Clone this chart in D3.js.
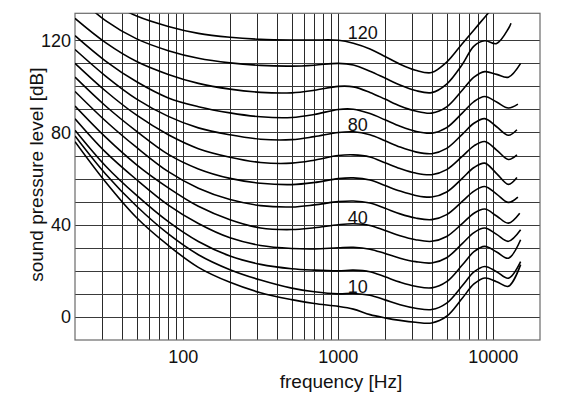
<!DOCTYPE html>
<html>
<head>
<meta charset="utf-8">
<script src="https://cdn.jsdelivr.net/npm/d3@7"></script>
<style>
  body { margin: 0; background: #fff; }
  text { font-family: "Liberation Sans", Arial, sans-serif; fill: #111; }
</style>
</head>
<body>
<div id="chart"></div>
<script>
// frequency grid (Hz) shared by all contours; the last point of each contour is its own end frequency
const freqs = [20, 31.5, 50, 80, 125, 200, 315, 500, 700, 1000, 1250, 1600, 2000, 2500, 3150, 4000, 5000, 6300, 7500, 8800, 10500, 12500];

// sound pressure level (dB), one array per contour
const splThreshold = [76, 58.5, 43, 31, 21.5, 15, 10.5, 7.5, 5.8, 4.6, 3.4, 1.0, -0.4, -1.5, -2.3, -2.6, 0.3, 8.1, 14.3, 16.9, 15.3, 13.3, 22.7];
const spl10 = [78.5, 62, 48, 36, 27, 20.5, 16, 12.5, 10.9, 10, 10.2, 9.4, 7.4, 5.3, 3.8, 3.2, 6.0, 13.5, 19.5, 21.9, 19.6, 16.8, 24];
const spl20 = [81, 65.5, 52.7, 41.3, 32.7, 26.4, 22.8, 20.9, 20.3, 20, 20.3, 19.6, 17.4, 15.1, 13.3, 12.6, 15.3, 22.5, 28.3, 30.6, 28.2, 25.5, 33.5];
const spl30 = [86, 71.5, 59.5, 48.5, 40.5, 34.3, 31.0, 29.7, 29.5, 30, 30.2, 29.4, 27.5, 25.5, 24, 23.4, 25.7, 31.8, 36.6, 38.6, 35.8, 32.8, 37.8];
const spl40 = [91.5, 78, 66, 56, 48, 42.2, 38.6, 37.9, 38.7, 40, 40.4, 39.7, 37.5, 35.2, 33.5, 32.8, 34.9, 40.5, 45, 46.8, 43.8, 40.7, 45];
const spl50 = [97.8, 85, 73.5, 63, 55.8, 50.9, 48.3, 47.7, 48.6, 50, 50.3, 49.4, 47.1, 44.7, 42.9, 42.2, 44.4, 50.1, 54.6, 56.6, 53.3, 49.7, 52];
const spl60 = [104, 91.5, 80.5, 70.5, 64.2, 60.1, 58.0, 57.4, 58.3, 60, 60.3, 59.4, 57, 54.6, 52.7, 52, 54.2, 60.1, 64.8, 66.7, 62.2, 57.5, 60.5];
const spl70 = [110, 98, 87.5, 79, 73, 69.3, 67.0, 66.7, 68, 70, 70.3, 69.4, 66.9, 64.4, 62.4, 61.7, 63.9, 69.6, 74.2, 76.1, 72.4, 68.3, 70.3];
const spl80 = [116, 104.5, 94.5, 87, 82, 79, 77.1, 76.9, 78.2, 80, 80.3, 79, 76.4, 73.7, 71.6, 70.8, 73.1, 79.2, 84, 86, 82.5, 78.8, 81.2];
const spl90 = [122, 111, 102, 95, 91.2, 88.5, 86.8, 86.5, 87.8, 90, 90.1, 88.2, 85.5, 82.7, 80.5, 79.7, 82.1, 88.4, 93.4, 95.6, 93.2, 90.6, 92.3];
const spl100 = [129.5, 119, 110.8, 105.2, 101.3, 98.8, 97.4, 97.2, 98.3, 100, 99.8, 97.4, 94.5, 91.5, 89.3, 88.4, 91.1, 98.3, 104, 106.4, 105.2, 104, 110];
const spl110 = [140, 128.5, 120.6, 115.5, 112.2, 110.2, 109.1, 108.8, 109.2, 110, 109.3, 106.6, 103.6, 100.6, 98.2, 97.3, 101, 109.5, 117.5, 119.8, 118.6, 125, 127.4];
const spl120 = [145, 137.5, 130.5, 126, 123, 121.3, 120.4, 120.1, 120.1, 120, 118.7, 116.2, 113, 109.6, 107, 106, 110.5, 118.5, 124.5, 130, 136, null, null];

const contours = [splThreshold, spl10, spl20, spl30, spl40, spl50, spl60, spl70, spl80, spl90, spl100, spl110, spl120];
const endFreqs = [15000, 15000, 15000, 15000, 14800, 14400, 14200, 14200, 14200, 14400, 15000, 13000, null];

const labelPhons = [120, 80, 40, 10];
const labelFreq = 1150;

const yTicks = [0, 40, 80, 120];
const xTicks = [100, 1000, 10000];

let width = 581, height = 395;
let margins = { top: 13.3, left: 75, right: 41, bottom: 55 };

let svg = d3.select("#chart")
    .append("svg")
        .attr("width", width)
        .attr("height", height);

let x = d3.scaleLog()
    .domain([20, 20000])
    .range([margins.left, width - margins.right]);

let y = d3.scaleLinear()
    .domain([-10, 131.7])
    .range([height - margins.bottom, margins.top]);

let x0 = x.range()[0], x1 = x.range()[1];
let y0 = y.range()[0], y1 = y.range()[1];

// grid: every 1-2-3..9 step of each decade, and every 10 dB
let vGrid = x.ticks().filter(f => f > 20 && f < 20000);
let hGrid = d3.range(0, 130, 10);

svg.append("g")
    .selectAll("line")
    .data(vGrid)
    .join("line")
        .attr("x1", d => Math.round(x(d)) + 0.5)
        .attr("x2", d => Math.round(x(d)) + 0.5)
        .attr("y1", y1)
        .attr("y2", y0)
        .style("stroke", "#2a2a2a")
        .style("stroke-width", 1);

svg.append("g")
    .selectAll("line")
    .data(hGrid)
    .join("line")
        .attr("x1", x0)
        .attr("x2", x1)
        .attr("y1", d => Math.round(y(d)) + 0.5)
        .attr("y2", d => Math.round(y(d)) + 0.5)
        .style("stroke", "#3a3a3a")
        .style("stroke-width", 1);

// frame
svg.append("rect")
    .attr("x", x0)
    .attr("y", y1)
    .attr("width", x1 - x0)
    .attr("height", y0 - y1)
    .style("fill", "none")
    .style("stroke", "#6a6a6a")
    .style("stroke-width", 1.2);

svg.append("clipPath")
    .attr("id", "plot-clip")
    .append("rect")
        .attr("x", x0)
        .attr("y", y1)
        .attr("width", x1 - x0)
        .attr("height", y0 - y1);

let line = d3.line()
    .defined(d => d.v !== null && d.f !== null)
    .x(d => x(d.f))
    .y(d => y(d.v))
    .curve(d3.curveCatmullRom.alpha(0.5));

let series = contours.map(function (vals, i) {
    return vals.map(function (v, j) {
        return { f: j < freqs.length ? freqs[j] : endFreqs[i], v: v };
    });
});

svg.append("g")
    .attr("clip-path", "url(#plot-clip)")
    .selectAll("path")
    .data(series)
    .join("path")
        .attr("d", line)
        .style("fill", "none")
        .style("stroke", "#000")
        .style("stroke-width", 1.6);

// contour labels
svg.append("g")
    .selectAll("text")
    .data(labelPhons)
    .join("text")
        .attr("x", x(labelFreq))
        .attr("y", d => y(d) - 1)
        .style("font-size", "18px")
        .text(d => d);

// y tick labels
svg.append("g")
    .selectAll("text")
    .data(yTicks)
    .join("text")
        .attr("x", x0 - 4)
        .attr("y", d => y(d))
        .attr("dy", "0.35em")
        .attr("text-anchor", "end")
        .style("font-size", "18px")
        .text(d => d);

// x tick labels
svg.append("g")
    .selectAll("text")
    .data(xTicks)
    .join("text")
        .attr("x", d => x(d))
        .attr("y", 363)
        .attr("text-anchor", "middle")
        .style("font-size", "18px")
        .text(d => d);

svg.append("text")
    .attr("x", 341)
    .attr("y", 388)
    .attr("text-anchor", "middle")
    .style("font-size", "19px")
    .text("frequency [Hz]");

svg.append("text")
    .attr("transform", "translate(43," + ((y0 + y1) / 2 - 2) + ") rotate(-90)")
    .attr("text-anchor", "middle")
    .style("font-size", "19px")
    .text("sound pressure level [dB]");
</script>
</body>
</html>
